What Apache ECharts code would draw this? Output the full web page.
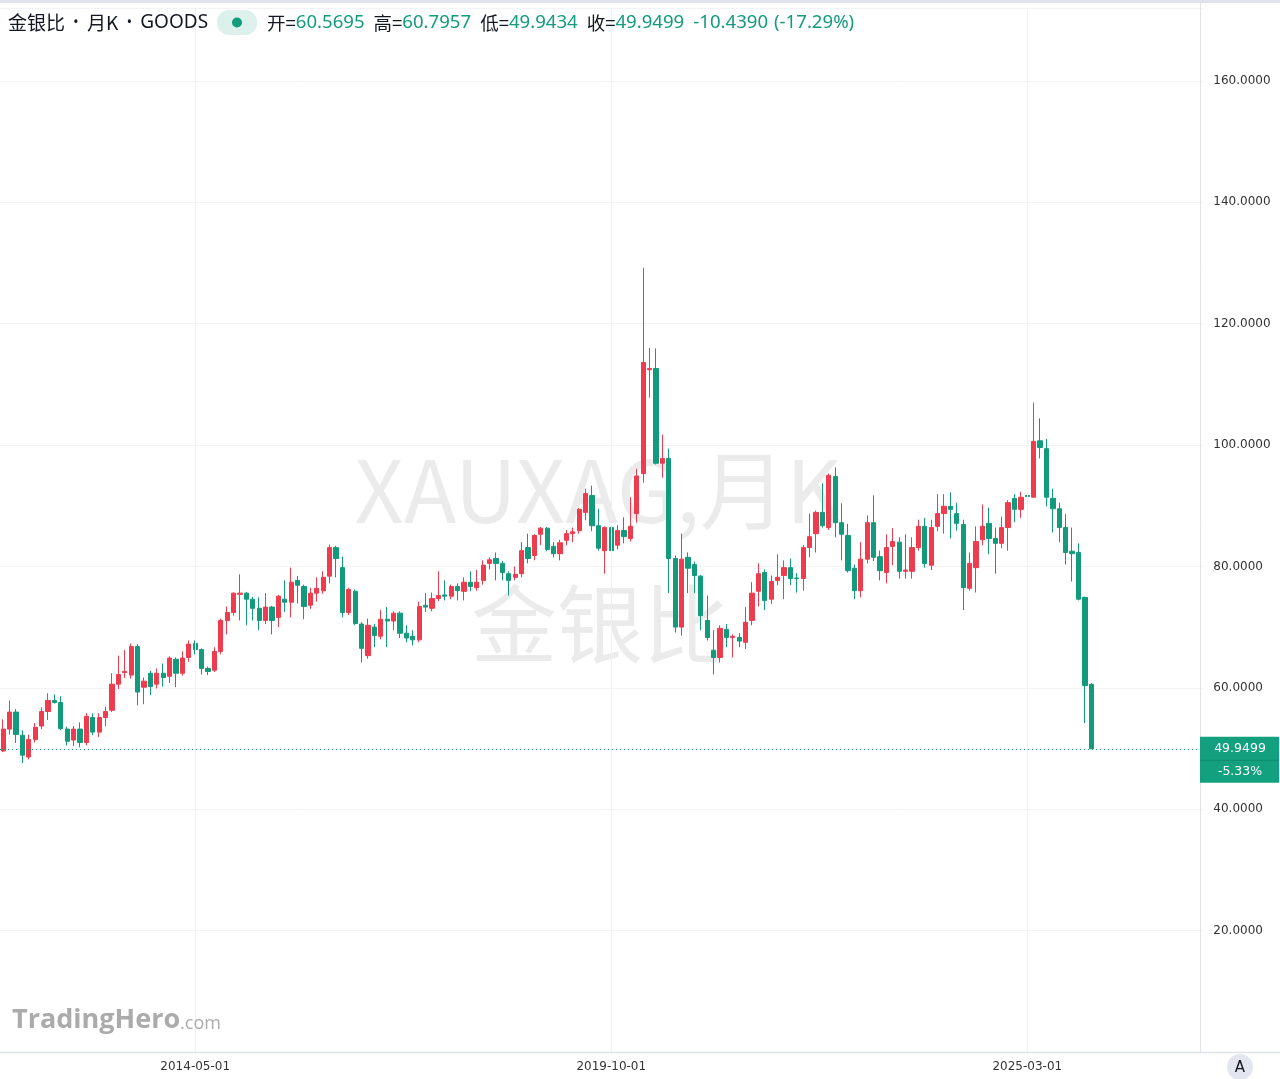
<!DOCTYPE html>
<html><head><meta charset="utf-8">
<script src="https://cdn.jsdelivr.net/npm/echarts@6/dist/echarts.min.js"></script>
<style>html,body{margin:0;padding:0;background:#fff;overflow:hidden}#c{width:1280px;height:1079px;}</style>
</head><body><div id="c"></div>
<script>
// ---- data (monthly gold/silver ratio) ----
const startYear = 2011, startMonth = 11;   // first candle: 2011-11
const slotCount = 188;                      // category slots incl. empty future months
const labelDates = ['2014-05-01', '2019-10-01', '2025-03-01'];
const yTickInterval = 20;

const opens = [
 49.6,53.2,56.0,52.2,48.6,51.5,53.7,56.1,57.9,57.6,53.2,51.4,53.2,51.0,55.1,52.7,55.1,56.3,60.6,62.5,
 62.1,66.8,60.1,62.4,60.6,62.4,61.9,64.7,62.4,65.0,67.3,66.3,63.2,62.9,66.0,71.1,72.4,75.4,75.6,74.6,
 73.1,71.1,73.3,71.6,74.6,74.1,77.7,76.7,73.6,75.6,76.0,78.4,83.1,79.8,72.4,75.9,70.5,65.3,70.0,68.5,
 71.3,71.0,72.3,69.0,68.5,67.9,73.6,73.1,74.7,75.3,75.1,76.7,75.9,77.4,76.5,77.7,80.5,81.3,80.5,78.8,
 78.2,78.8,83.1,81.8,85.3,86.3,83.3,82.1,84.3,85.4,85.9,88.9,91.7,86.7,82.6,86.4,83.5,85.9,84.6,88.7,
 95.3,112.4,112.6,97.0,97.8,81.3,70.0,81.5,80.3,78.4,71.1,66.2,65.0,69.6,68.3,68.3,67.5,71.1,75.9,79.0,
 74.6,77.7,78.5,79.8,78.1,78.0,83.1,85.4,88.9,86.4,94.8,87.2,85.1,79.7,76.0,81.2,87.2,81.6,79.0,83.3,
 84.0,79.2,79.2,83.1,86.6,80.2,86.6,88.7,89.9,88.7,86.9,76.4,79.8,84.4,87.1,84.6,83.8,86.4,91.2,89.4,
 91.7,91.4,100.7,99.4,91.2,89.5,86.4,82.5,82.3,74.9,60.5695
];
const closes = [
 53.2,56.0,52.3,48.9,51.5,53.5,56.1,57.9,57.6,53.3,51.2,53.2,51.0,55.3,52.7,55.1,56.1,60.6,62.2,62.7,
 66.8,59.3,61.1,60.2,62.4,61.7,64.9,62.4,64.9,67.2,66.3,63.2,62.7,66.0,71.1,72.4,75.6,75.6,74.6,73.1,
 71.1,73.3,71.1,75.1,74.1,77.4,76.9,73.4,75.6,76.4,78.2,83.1,81.3,72.4,76.2,70.6,66.5,70.3,68.6,71.3,
 71.0,72.3,69.0,68.2,67.9,73.4,73.3,74.7,75.2,75.1,76.7,76.0,77.4,76.7,77.4,80.2,81.1,80.5,79.0,77.7,
 78.7,82.6,81.3,85.1,86.3,82.8,82.1,83.9,85.4,85.7,89.4,92.0,86.7,83.0,86.4,82.6,85.9,84.9,86.6,94.9,
 113.6,112.6,97.0,97.8,81.3,70.0,81.2,79.7,78.5,71.9,68.3,65.0,69.8,68.3,68.5,67.7,70.8,75.6,78.8,74.4,
 77.5,78.2,79.8,78.0,78.0,83.1,84.9,88.9,86.7,95.0,87.2,85.3,79.3,76.0,81.2,87.2,81.5,79.3,83.1,84.1,
 79.2,79.4,83.1,86.6,80.5,86.4,88.7,89.9,89.4,87.1,76.5,80.5,84.1,86.6,84.6,83.8,86.4,90.5,89.4,91.4,
 91.5,100.6,99.6,91.4,89.5,86.4,82.3,82.1,74.6,60.3889,49.9499
];
const lows = [
 49.4,52.3,50.9,47.6,48.2,51.0,53.2,54.7,57.4,53.0,50.5,50.4,50.2,50.5,52.2,51.9,53.7,56.0,59.8,61.6,
 61.5,57.1,57.3,58.8,59.9,60.2,60.8,60.1,62.0,64.3,65.5,62.2,62.1,62.6,65.5,68.8,71.9,71.1,70.3,71.1,
 69.5,70.5,68.8,70.0,72.5,71.6,73.9,71.3,73.0,74.2,75.5,77.2,78.2,71.6,72.0,70.3,64.2,64.8,66.7,68.0,
 66.7,69.5,68.2,67.5,67.0,67.5,72.5,72.6,74.3,74.4,74.6,74.4,74.4,75.9,76.0,77.0,79.5,77.7,77.7,75.2,
 77.7,78.2,80.5,81.0,83.5,82.5,81.5,81.0,83.5,84.0,85.4,87.6,85.8,82.6,78.8,82.1,82.8,83.8,84.1,87.2,
 93.8,107.8,96.8,94.6,75.6,69.1,68.6,75.6,75.6,69.5,67.8,62.2,64.2,66.7,65.0,66.7,66.4,70.3,73.4,72.8,
 73.8,76.9,74.6,76.9,75.7,76.0,81.5,82.3,86.4,86.0,84.8,81.0,79.0,74.6,74.9,80.5,80.9,77.7,77.2,80.2,
 78.0,78.0,78.0,82.6,79.8,79.4,85.8,85.4,84.6,85.9,72.8,76.0,75.7,83.5,82.0,78.8,83.0,82.6,87.3,88.0,
 87.7,91.3,97.8,89.9,85.6,84.0,80.3,77.5,74.4,54.2,49.9434
];
const highs = [
 54.8,57.9,56.5,53.0,52.3,54.2,56.8,59.1,58.9,58.6,53.6,53.7,54.3,55.8,55.8,55.8,56.9,62.4,65.3,66.2,
 67.3,67.2,61.7,62.8,63.2,64.0,65.2,65.0,66.0,67.8,67.8,66.5,63.5,66.7,71.4,73.4,75.7,78.7,75.8,75.0,
 74.9,75.6,73.5,75.3,77.7,79.8,78.4,77.0,76.5,78.2,79.2,83.6,83.4,81.6,76.5,76.2,70.8,71.4,70.5,72.8,
 73.3,72.6,72.6,70.3,69.5,74.2,75.6,75.7,79.2,77.7,77.0,77.2,78.2,79.2,79.4,81.0,81.5,82.3,80.9,79.2,
 80.0,84.0,85.4,85.3,86.5,86.5,84.0,84.4,86.0,86.4,89.6,92.8,93.3,89.5,86.6,86.6,86.8,88.1,91.4,96.1,
 129.2,116.0,115.9,101.7,99.4,81.8,85.4,82.3,80.8,78.6,75.2,69.5,70.3,70.5,68.8,69.0,73.3,77.4,80.5,79.5,
 78.5,82.0,81.0,81.3,78.9,83.5,88.7,89.2,93.7,95.3,96.3,90.4,87.0,80.3,84.0,88.4,91.7,82.6,85.3,86.3,
 84.8,85.3,84.8,87.7,88.0,87.7,91.9,91.9,92.2,90.5,87.7,82.3,86.6,90.2,89.7,86.4,88.2,90.9,91.9,92.3,
 92.3,107.0,104.4,101.0,92.8,90.5,88.6,86.4,83.8,75.0,60.7957
];
const headerName = '金银比', headerPeriod = '月K', headerSource = 'GOODS';
const headerOpen = '60.5695', headerHigh = '60.7957', headerLow = '49.9434', headerClose = '49.9499';
const headerChange = '-10.4390', headerChangePct = '(-17.29%)';
const boxPrice = '49.9499', boxPct = '-5.33%';

// ---- build ----
const UP = '#ee3b4e', DOWN = '#129a7c', TEAL = '#139b7d';
const cats = [];
for (let i = 0; i < slotCount; i++) {
  const m0 = startMonth - 1 + i;
  const y = startYear + Math.floor(m0 / 12), m = m0 % 12 + 1;
  cats.push(y + '-' + String(m).padStart(2, '0') + '-01');
}
const candles = opens.map((o, i) => [o, closes[i], lows[i], highs[i]]);
const lastClose = closes[closes.length - 1];

const chart = echarts.init(document.getElementById('c'));
const option = {
  animation: false,
  backgroundColor: '#ffffff',
  grid: { left: -1.4, right: 76.7, top: 8, bottom: 27 },
  xAxis: {
    type: 'category', data: cats, boundaryGap: true,
    axisLine: { show: false }, axisTick: { show: false },
    splitLine: { show: false },
    axisLabel: {
      interval: (idx, val) => labelDates.indexOf(val) >= 0,
      color: '#333', fontSize: 12, fontFamily: 'DejaVu Sans', margin: 9
    }
  },
  yAxis: {
    type: 'value', position: 'right', min: 0, max: 172, interval: yTickInterval,
    axisLine: { show: false }, axisTick: { show: false },
    splitLine: { lineStyle: { color: '#f1f3f6', width: 1 } },
    axisLabel: {
      showMinLabel: false, showMaxLabel: false,
      formatter: v => v.toFixed(4), color: '#333', fontSize: 12,
      fontFamily: 'DejaVu Sans', margin: 10, align: 'left'
    }
  },
  series: [{
    type: 'candlestick', data: candles, barWidth: '74%',
    itemStyle: { color: UP, color0: DOWN, borderColor: UP, borderColor0: DOWN, borderWidth: 1 },
    markLine: {
      silent: true, symbol: ['none', 'none'], label: { show: false },
      data: labelDates.map(d => ({ xAxis: d, lineStyle: { color: '#eef0f4', width: 1, type: 'solid' } }))
        .concat([{ yAxis: lastClose, lineStyle: { color: TEAL, width: 1, type: [1, 3] } }])
    }
  }]
};
chart.setOption(option);

const priceY = chart.convertToPixel({ yAxisIndex: 0 }, lastClose);
const cjk = '"Noto Sans CJK SC"';
chart.setOption({
  graphic: [
    // watermark
    { type: 'text', z: 0, style: { text: 'XAUXAG,月K', fill: 'rgba(0,0,0,0.08)', font: '86px ' + cjk, textAlign: 'center', textVerticalAlign: 'middle' }, x: 598, y: 490 },
    { type: 'text', z: 0, style: { text: '金银比', fill: 'rgba(0,0,0,0.08)', font: '86px ' + cjk, textAlign: 'center', textVerticalAlign: 'middle' }, x: 600, y: 624 },
    // top strip
    { type: 'rect', z: 10, shape: { x: 0, y: 0, width: 1280, height: 3 }, style: { fill: '#e0e3eb' } },
    // separators
    { type: 'line', z: 10, shape: { x1: 1200.5, y1: 3, x2: 1200.5, y2: 1052 }, style: { stroke: '#e0e3eb', lineWidth: 1 } },
    { type: 'line', z: 10, shape: { x1: 0, y1: 1052.5, x2: 1280, y2: 1052.5 }, style: { stroke: '#e0e3eb', lineWidth: 1.5 } },
    // header
    { type: 'text', z: 10, x: 8, y: 23, style: {
        text: '{c|' + headerName + '}{s|•}{c|' + headerPeriod + '}{s|•}{l|' + headerSource + '}',
        textVerticalAlign: 'middle',
        rich: {
          c: { fill: '#131722', font: '19px ' + cjk },
          s: { fill: '#131722', font: '14px "Noto Sans"', width: 22, align: 'center' },
          l: { fill: '#131722', font: '19px "Noto Sans"' }
        }
    } },
    { type: 'rect', z: 10, shape: { x: 217, y: 10, width: 40, height: 25, r: 12 }, style: { fill: '#dcf1eb' } },
    { type: 'circle', z: 11, shape: { cx: 237, cy: 22.5, r: 5 }, style: { fill: TEAL } },
    { type: 'text', z: 10, x: 267, y: 23, style: {
        text: '{l|开=}{v|' + headerOpen + '}{g|}{l|高=}{v|' + headerHigh + '}{g|}{l|低=}{v|' + headerLow + '}{g|}{l|收=}{v|' + headerClose + '}{g|}{v|' + headerChange + '}{h|}{v|' + headerChangePct + '}',
        textVerticalAlign: 'middle',
        rich: {
          l: { fill: '#131722', font: '18.5px ' + cjk },
          v: { fill: TEAL, font: '18.6px "Noto Sans"' },
          g: { width: 9 },
          h: { width: 6 }
        }
    } },
    // logo
    { type: 'text', z: 10, x: 12, y: 1020, style: {
        text: '{a|TradingHero}{b|.com}', textVerticalAlign: 'middle',
        rich: { a: { fill: '#ababab', font: 'bold 27px "Open Sans"' }, b: { fill: '#ababab', font: '18px "Open Sans"', padding: [8, 0, 0, 0] } }
    } },
    // last price box
    { type: 'rect', z: 12, shape: { x: 1200, y: priceY - 12, width: 79, height: 46 }, style: { fill: '#13a07e' } },
    { type: 'line', z: 13, shape: { x1: 1200, y1: priceY + 11.5, x2: 1279, y2: priceY + 11.5 }, style: { stroke: '#0f8a6c', lineWidth: 1 } },
    { type: 'text', z: 13, x: 1240, y: priceY, style: { text: boxPrice, fill: '#fff', font: '12.5px "DejaVu Sans"', textAlign: 'center', textVerticalAlign: 'middle' } },
    { type: 'text', z: 13, x: 1240, y: priceY + 23, style: { text: boxPct, fill: '#fff', font: '12.5px "DejaVu Sans"', textAlign: 'center', textVerticalAlign: 'middle' } },
    // auto-scale button
    { type: 'circle', z: 10, shape: { cx: 1240, cy: 1067, r: 13 }, style: { fill: '#e3e6ee' } },
    { type: 'text', z: 11, x: 1240, y: 1068, style: { text: 'A', fill: '#131722', font: '15px "DejaVu Sans"', textAlign: 'center', textVerticalAlign: 'middle' } }
  ]
});
</script></body></html>
